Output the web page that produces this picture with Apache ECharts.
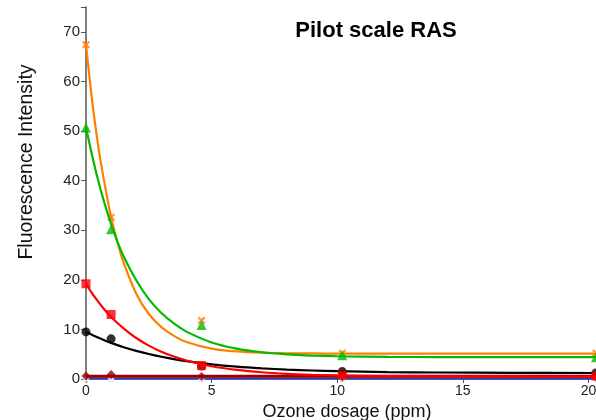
<!DOCTYPE html>
<html>
<head>
<meta charset="utf-8">
<script src="https://cdn.jsdelivr.net/npm/echarts@6/dist/echarts.min.js"></script>
<style>html,body{margin:0;padding:0;background:#fff}#c{width:596px;height:420px}</style>
</head>
<body>
<div id="c"></div>
<script>
// measured points
const xPoints = [0, 1, 4.6, 10.2, 20.3];
const orangePts = [67.4, 32.6, 11.8, 5.2, 5.2];
const greenPts = [50.7, 30.2, 10.9, 4.8, 4.4];
const redPts = [19.2, 13.0, 2.7, 0.8, 0.6];
const blackPts = [9.5, 8.1, 2.6, 1.5, 1.2];
const darkRedPts = [0.6, 0.9, 0.5, 0.4, 0.4];
const bluePts = [0.0, 0.0, 0.0, 0.0, 0.0];

// fitted curves
const xFit = [0, 0.25, 0.5, 0.75, 1, 1.25, 1.5, 2, 2.5, 3, 3.5, 4, 5, 6, 7, 8, 9, 10, 12, 14, 17, 20.3];
const orangeFit = [67.4, 55.9, 46.5, 39.1, 32.6, 27.6, 23.4, 17.2, 13.1, 10.45, 8.7, 7.47, 6.14, 5.56, 5.30, 5.19, 5.15, 5.12, 5.1, 5.1, 5.1, 5.1];
const greenFit = [50.8, 44.9, 39.7, 35.2, 31.2, 27.7, 24.7, 19.9, 16.1, 13.3, 11.2, 9.55, 7.37, 6.11, 5.39, 4.97, 4.73, 4.59, 4.46, 4.42, 4.4, 4.4];
const redFit = [19.2, 17.2, 15.5, 13.9, 12.5, 11.3, 10.2, 8.26, 6.73, 5.5, 4.52, 3.72, 2.57, 1.84, 1.36, 1.05, 0.86, 0.73, 0.6, 0.55, 0.51, 0.5];
const blackFit = [9.5, 8.88, 8.3, 7.77, 7.28, 6.83, 6.41, 5.67, 5.03, 4.48, 4.01, 3.6, 2.96, 2.49, 2.15, 1.89, 1.71, 1.57, 1.40, 1.31, 1.24, 1.21];
const darkRedFit = [0.55, 0.55, 0.55, 0.55, 0.55, 0.55, 0.55, 0.55, 0.55, 0.55, 0.55, 0.55, 0.55, 0.55, 0.55, 0.55, 0.55, 0.55, 0.55, 0.55, 0.55, 0.55];
const blueFit = [0.1, 0.1, 0.1, 0.1, 0.1, 0.1, 0.1, 0.1, 0.1, 0.1, 0.1, 0.1, 0.1, 0.1, 0.1, 0.1, 0.1, 0.1, 0.1, 0.1, 0.1, 0.1];

const yTicks = [0, 10, 20, 30, 40, 50, 60, 70];
const xTicks = [0, 5, 10, 15, 20];

const title = 'Pilot scale RAS';
const xName = 'Ozone dosage (ppm)';
const yName = 'Fluorescence Intensity';

const pair = (xs, ys) => xs.map((x, i) => [x, ys[i]]);
const crossPath = 'path://M0,2L2,0L5,3L8,0L10,2L7,5L10,8L8,10L5,7L2,10L0,8L3,5Z';

const COL = {orange: '#ff8000', green: '#00bb00', red: '#ff0000', black: '#000000', darkred: '#990000', blue: '#3333cc'};
const font = 'Liberation Sans, Arial, sans-serif';

function fitLine(data, color, width, z) {
  return {type: 'line', data: data, smooth: 0.3, showSymbol: false, symbol: 'none',
    lineStyle: {color: color, width: width}, z: z, silent: true};
}
function pts(data, color, symbol, size, z, extra) {
  return Object.assign({type: 'scatter', data: data, symbol: symbol, symbolSize: size,
    itemStyle: {color: color}, z: z}, extra || {});
}

const chart = echarts.init(document.getElementById('c'), null, {renderer: 'canvas'});
chart.setOption({
  animation: false,
  backgroundColor: '#fff',
  title: {text: title, left: 371, top: 15, textAlign: 'center',
    textStyle: {fontFamily: font, fontSize: 22, fontWeight: 'bold', color: '#000'}},
  grid: {left: 86, right: 0, top: 7, bottom: 41, containLabel: false, outerBoundsMode: 'none'},
  xAxis: {type: 'value', min: 0, max: 20.3, interval: 5,
    name: xName, nameLocation: 'middle', nameGap: 22,
    nameTextStyle: {fontFamily: font, fontSize: 18, color: '#111', padding: [0, 0, 0, 12]},
    axisLine: {show: true, lineStyle: {color: '#555', width: 1.5}},
    axisTick: {show: true, length: 4, lineStyle: {color: '#555'}},
    axisLabel: {fontFamily: font, fontSize: 14, color: '#222', margin: 5,
      formatter: v => xTicks.includes(v) ? String(v) : ''},
    splitLine: {show: false}},
  yAxis: {type: 'value', min: 0, max: 75, interval: 10,
    axisLine: {show: true, lineStyle: {color: '#555', width: 1.5}},
    axisTick: {show: true, length: 5, lineStyle: {color: '#555'}},
    axisLabel: {fontFamily: font, fontSize: 15, color: '#222', margin: 6,
      formatter: v => yTicks.includes(v) ? String(v) : ''},
    splitLine: {show: false}},
  graphic: [{type: 'text', rotation: Math.PI / 2, x: 27, y: 162,
    style: {text: yName, font: '19.5px ' + font, fill: '#111', textAlign: 'center', textVerticalAlign: 'middle'}}],
  series: [
    fitLine(pair(xFit, blueFit), COL.blue, 2, 2),
    pts(pair(xPoints, bluePts), '#ffffff', 'circle', 6, 3, {itemStyle: {color: '#fff', borderColor: '#8888ee', borderWidth: 1, borderType: 'dotted'}}),
    fitLine(pair(xFit, darkRedFit), COL.darkred, 3, 4),
    pts(pair(xPoints, darkRedPts), COL.darkred, 'diamond', 9, 5),
    fitLine(pair(xFit, blackFit), COL.black, 2.2, 6),
    pts(pair(xPoints, blackPts), COL.black, 'circle', 9, 7),
    fitLine(pair(xFit, redFit), COL.red, 2.2, 8),
    pts(pair(xPoints, redPts), COL.red, 'rect', 9, 9),
    fitLine(pair(xFit, orangeFit), COL.orange, 2.2, 10),
    pts(pair(xPoints, orangePts), COL.orange, crossPath, 8, 11),
    fitLine(pair(xFit, greenFit), COL.green, 2.2, 12),
    pts(pair(xPoints, greenPts), COL.green, 'triangle', 10, 13)
  ]
});
</script>
</body>
</html>
